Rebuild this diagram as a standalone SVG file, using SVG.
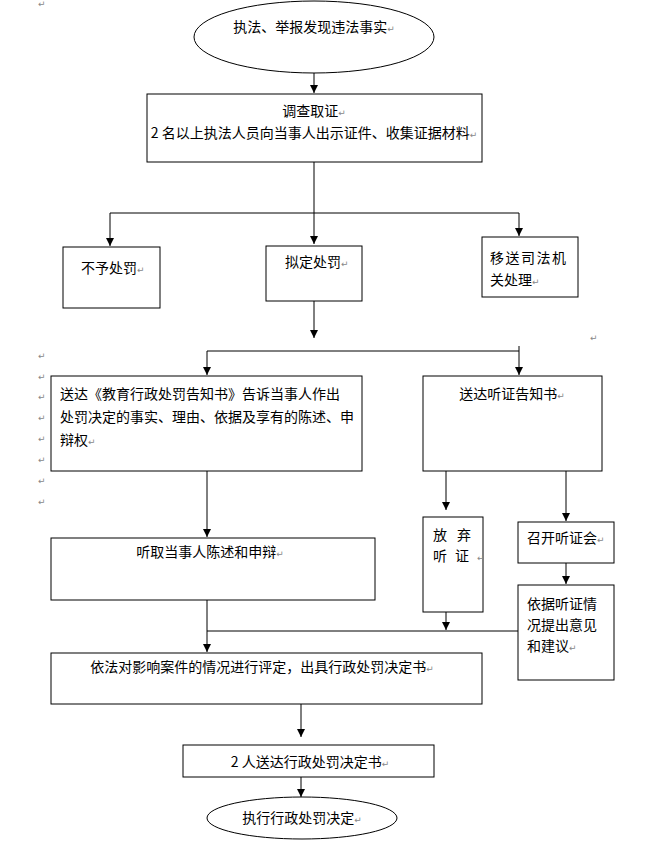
<svg xmlns="http://www.w3.org/2000/svg" width="655" height="851" viewBox="0 0 655 851">
<defs>
<marker id="ah" viewBox="0 0 10 10" refX="10" refY="5" markerWidth="8" markerHeight="8" markerUnits="userSpaceOnUse" orient="auto">
<path d="M0,0 L10,5 L0,10 z" fill="#000"/>
</marker>
</defs>
<style>
.n{fill:#fff;stroke:#000;stroke-width:1}
.t{font-family:"Noto Sans CJK SC","Liberation Sans",sans-serif;font-size:14px;fill:#000}
.c{text-anchor:middle}
.pm{font-family:"DejaVu Sans",sans-serif;font-size:9px;fill:#888}
.e{fill:none;stroke:#000;stroke-width:1}
</style>
<rect width="655" height="851" fill="#fff"/>
<g id="connectors">
<path class="e" d="M314,73 V93" marker-end="url(#ah)"/>
<path class="e" d="M314,162 V244" marker-end="url(#ah)"/>
<path class="e" d="M110,213 H519"/>
<path class="e" d="M110,213 V246" marker-end="url(#ah)"/>
<path class="e" d="M519,213 V236" marker-end="url(#ah)"/>
<path class="e" d="M314,301 V338" marker-end="url(#ah)"/>
<path class="e" d="M207,351 H519"/>
<path class="e" d="M519,346 V375" marker-end="url(#ah)"/>
<path class="e" d="M207,351 V375" marker-end="url(#ah)"/>
<path class="e" d="M207,471 V537" marker-end="url(#ah)"/>
<path class="e" d="M446,471 V510" marker-end="url(#ah)"/>
<path class="e" d="M566,471 V521" marker-end="url(#ah)"/>
<path class="e" d="M566,563 V584" marker-end="url(#ah)"/>
<path class="e" d="M446,612 V630" marker-end="url(#ah)"/>
<path class="e" d="M207,631 H518"/>
<path class="e" d="M207,600 V652" marker-end="url(#ah)"/>
<path class="e" d="M301,704 V737" marker-end="url(#ah)"/>
<path class="e" d="M301,777 V797" marker-end="url(#ah)"/>
</g>
<g id="start">
<ellipse class="n" cx="314" cy="37" rx="120" ry="36"/>
<text class="t c" x="314" y="32">执法、举报发现违法事实<tspan class="pm">↵</tspan></text>
</g>
<g id="investigate">
<rect class="n" x="147" y="94" width="335" height="68"/>
<text class="t c" x="314" y="116">调查取证<tspan class="pm">↵</tspan></text>
<text class="t c" x="314" y="138">2 名以上执法人员向当事人出示证件、收集证据材料<tspan class="pm">↵</tspan></text>
</g>
<g id="nopunish">
<rect class="n" x="63" y="247" width="97" height="61"/>
<text class="t" x="81" y="273">不予处罚<tspan class="pm">↵</tspan></text>
</g>
<g id="propose">
<rect class="n" x="266" y="246" width="96" height="55"/>
<text class="t" x="285" y="267">拟定处罚<tspan class="pm">↵</tspan></text>
</g>
<g id="transfer">
<rect class="n" x="482" y="237" width="96" height="60"/>
<text class="t" x="490" y="263" letter-spacing="1.5">移送司法机</text>
<text class="t" x="490" y="285">关处理<tspan class="pm">↵</tspan></text>
</g>
<g id="notice">
<rect class="n" x="51" y="376" width="311" height="95"/>
<text class="t" x="60" y="399">送达《教育行政处罚告知书》告诉当事人作出</text>
<text class="t" x="60" y="422">处罚决定的事实、理由、依据及享有的陈述、申</text>
<text class="t" x="60" y="445">辩权<tspan class="pm">↵</tspan></text>
</g>
<g id="hearingnotice">
<rect class="n" x="423" y="376" width="179" height="95"/>
<text class="t c" x="512" y="399">送达听证告知书<tspan class="pm">↵</tspan></text>
</g>
<g id="listen">
<rect class="n" x="51" y="538" width="324" height="62"/>
<text class="t c" x="210" y="557">听取当事人陈述和申辩<tspan class="pm">↵</tspan></text>
</g>
<g id="waive">
<rect class="n" x="423" y="517" width="60" height="95"/>
<text class="t" x="433" y="540" letter-spacing="10">放弃</text>
<text class="t" x="433" y="561" letter-spacing="8">听证<tspan class="pm" letter-spacing="0">↵</tspan></text>
</g>
<g id="hearing">
<rect class="n" x="518" y="522" width="96" height="41"/>
<text class="t" x="527" y="543">召开听证会<tspan class="pm">↵</tspan></text>
</g>
<g id="opinion">
<rect class="n" x="518" y="585" width="96" height="95"/>
<text class="t" x="527" y="609">依据听证情</text>
<text class="t" x="527" y="630">况提出意见</text>
<text class="t" x="527" y="651">和建议<tspan class="pm">↵</tspan></text>
</g>
<g id="decide">
<rect class="n" x="51" y="653" width="431" height="51"/>
<text class="t c" x="262" y="672">依法对影响案件的情况进行评定，出具行政处罚决定书<tspan class="pm">↵</tspan></text>
</g>
<g id="deliver">
<rect class="n" x="183" y="745" width="251" height="32"/>
<text class="t c" x="310" y="767">2 人送达行政处罚决定书<tspan class="pm">↵</tspan></text>
</g>
<g id="execute">
<ellipse class="n" cx="302" cy="818" rx="95" ry="21"/>
<text class="t c" x="302" y="823">执行行政处罚决定<tspan class="pm">↵</tspan></text>
</g>
<g id="marks">
<text class="pm" x="38" y="7">↵</text>
<text class="pm" x="590" y="341">↵</text>
<text class="pm" x="38" y="359">↵</text>
<text class="pm" x="38" y="380">↵</text>
<text class="pm" x="38" y="400">↵</text>
<text class="pm" x="38" y="421">↵</text>
<text class="pm" x="38" y="442">↵</text>
<text class="pm" x="38" y="463">↵</text>
<text class="pm" x="38" y="484">↵</text>
<text class="pm" x="38" y="505">↵</text>
</g>
</svg>
